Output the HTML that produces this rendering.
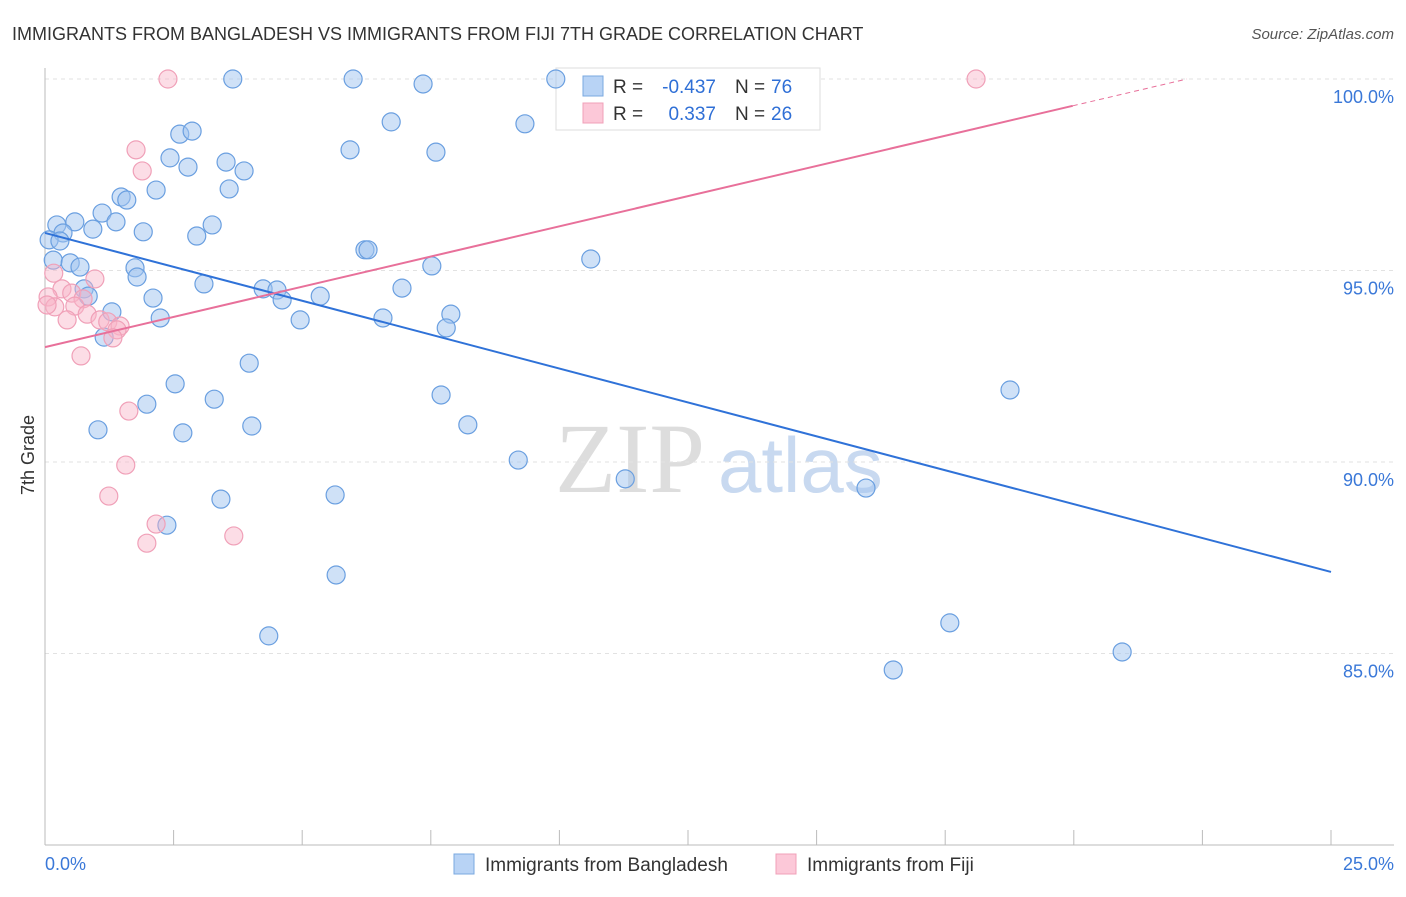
<!DOCTYPE html>
<html><head><meta charset="utf-8"><style>
body{margin:0;background:#fff;font-family:"Liberation Sans",sans-serif;}
</style></head><body>
<svg id="c" width="1406" height="892" xmlns="http://www.w3.org/2000/svg">
<text x="12" y="40" font-size="18" fill="#333">IMMIGRANTS FROM BANGLADESH VS IMMIGRANTS FROM FIJI 7TH GRADE CORRELATION CHART</text>
<text x="1394" y="39" font-size="15" fill="#555" font-style="italic" text-anchor="end">Source: ZipAtlas.com</text>
<text x="34" y="455" font-size="18" fill="#333" text-anchor="middle" transform="rotate(-90 34 455)">7th Grade</text>
<text x="555" y="492" font-size="100" fill="#ddd" font-family="Liberation Serif,serif">ZIP</text>
<text x="718" y="492" font-size="78" fill="#c8d9f0">atlas</text>
<g id="grid"></g>
<g>
<rect x="556" y="68" width="264" height="62" fill="#fff" stroke="#ddd"/>
<rect x="583" y="76" width="20" height="20" fill="#b8d3f5" stroke="#7aa8e0"/>
<rect x="583" y="103" width="20" height="20" fill="#fcc8d8" stroke="#f0a0b8"/>
<text x="613" y="93" font-size="19" fill="#333">R =</text>
<text x="716" y="93" font-size="19" fill="#2f6fd6" text-anchor="end">-0.437</text>
<text x="735" y="93" font-size="19" fill="#333">N =</text>
<text x="771" y="93" font-size="19" fill="#2f6fd6">76</text>
<text x="613" y="120" font-size="19" fill="#333">R =</text>
<text x="716" y="120" font-size="19" fill="#2f6fd6" text-anchor="end">0.337</text>
<text x="735" y="120" font-size="19" fill="#333">N =</text>
<text x="771" y="120" font-size="19" fill="#2f6fd6">26</text>
</g>
<g id="pts"></g><g id="lines"></g>
<g>
<rect x="454" y="854" width="20" height="20" fill="#b8d3f5" stroke="#7aa8e0"/>
<text x="485" y="871" font-size="19" fill="#333">Immigrants from Bangladesh</text>
<rect x="776" y="854" width="20" height="20" fill="#fcc8d8" stroke="#f0a0b8"/>
<text x="807" y="871" font-size="19" fill="#333">Immigrants from Fiji</text>
</g>
<text x="45" y="870" font-size="18" fill="#3a78d8">0.0%</text>
<text x="1394" y="870" font-size="18" fill="#3a78d8" text-anchor="end">25.0%</text>
</svg>
<script>
const blueX=[3.65,5.99,7.35,9.93,6.73,9.33,2.62,2.86,5.93,7.60,2.43,2.78,3.52,3.87,2.16,3.58,1.48,1.59,1.11,0.58,0.23,1.38,3.25,0.35,0.93,1.91,2.95,0.08,0.29,6.22,6.28,10.61,0.16,0.49,0.68,1.75,1.79,7.52,3.09,4.24,4.51,6.94,0.76,0.84,2.10,4.61,5.35,1.30,2.24,4.96,6.57,7.89,7.80,1.15,3.97,18.76,2.53,7.70,3.29,1.98,1.03,2.68,4.02,8.22,9.20,11.28,15.96,3.42,5.64,2.37,5.66,17.59,4.35,20.94,16.49];
const blueY=[100,100,99.87,100,98.88,98.83,98.56,98.64,98.15,98.09,97.94,97.70,97.83,97.60,97.10,97.13,96.92,96.84,96.50,96.27,96.19,96.27,96.19,95.98,96.08,96.01,95.90,95.80,95.77,95.54,95.54,95.30,95.27,95.20,95.09,95.07,94.83,95.12,94.65,94.52,94.49,94.54,94.52,94.33,94.28,94.23,94.33,93.92,93.76,93.71,93.76,93.86,93.50,93.26,92.58,91.88,92.04,91.75,91.64,91.51,90.84,90.76,90.94,90.97,90.05,89.56,89.32,89.03,89.14,88.35,87.05,85.80,85.46,85.04,84.57];
const pinkX=[2.39,18.10,1.77,1.89,0.17,0.97,0.33,0.06,0.52,0.74,0.19,0.58,0.04,0.82,0.43,1.07,1.22,1.46,1.40,1.32,0.70,1.63,1.57,1.24,2.16,1.98,3.67];
const pinkY=[100,100,98.15,97.60,94.93,94.78,94.52,94.31,94.41,94.26,94.05,94.07,94.10,93.86,93.71,93.71,93.66,93.55,93.45,93.24,92.77,91.33,89.92,89.11,88.38,87.88,88.07];
const yTicks=[100,95,90,85];
const blueTrend=[95.98,87.13];
const pinkTrend=[93.0,99.30,19.98];
const sx=v=>45+v/25*1286, sy=v=>79+(100-v)*38.3;
const NS="http://www.w3.org/2000/svg";
function mk(tag,attrs,parent){const e=document.createElementNS(NS,tag);for(const k in attrs)e.setAttribute(k,attrs[k]);parent.appendChild(e);return e;}
const grid=document.getElementById('grid');
yTicks.forEach(t=>{
 const l=mk('line',{x1:45,x2:1394,y1:sy(t),y2:sy(t),stroke:'#e2e2e2','stroke-dasharray':'4,4'},grid);
 
 
 const tx=mk('text',{x:1394,y:sy(t)+24,'font-size':18,fill:'#3a78d8','text-anchor':'end'},grid);
 tx.textContent=t.toFixed(1)+'%';
 
 
});
mk('line',{x1:45,x2:45,y1:68,y2:845,stroke:'#bbb'},grid);
mk('line',{x1:45,x2:1394,y1:845,y2:845,stroke:'#bbb'},grid);
for(let i=0;i<=10;i++){const x=sx(i*2.5);const t=mk('line',{x1:x,x2:x,y1:830,y2:845,stroke:'#bbb'},grid);
 
 }
const pts=document.getElementById('pts');
blueX.forEach((x,i)=>{const c=mk('circle',{cx:sx(x),cy:sy(blueY[i]),r:9,fill:'rgba(160,196,240,0.5)',stroke:'#6a9fe0','stroke-width':1.2},pts);
 
 });
pinkX.forEach((x,i)=>{const c=mk('circle',{cx:sx(x),cy:sy(pinkY[i]),r:9,fill:'rgba(248,180,200,0.45)',stroke:'#f0a0b8','stroke-width':1.2},pts);
 
 });
const lines=document.getElementById('lines');
const bl=mk('line',{x1:sx(0),y1:sy(blueTrend[0]),x2:sx(25),y2:sy(blueTrend[1]),stroke:'#2f72d8','stroke-width':2},lines);


const slope=(pinkTrend[1]-pinkTrend[0])/pinkTrend[2];
const pl=mk('line',{x1:sx(0),y1:sy(pinkTrend[0]),x2:sx(pinkTrend[2]),y2:sy(pinkTrend[1]),stroke:'#e8709a','stroke-width':2},lines);


const xe=(100-pinkTrend[0])/slope;
const pd=mk('line',{x1:sx(pinkTrend[2]),y1:sy(pinkTrend[1]),x2:sx(xe),y2:sy(100),stroke:'#e8709a','stroke-width':1,'stroke-dasharray':'5,4'},lines);


</script>
</body></html>
